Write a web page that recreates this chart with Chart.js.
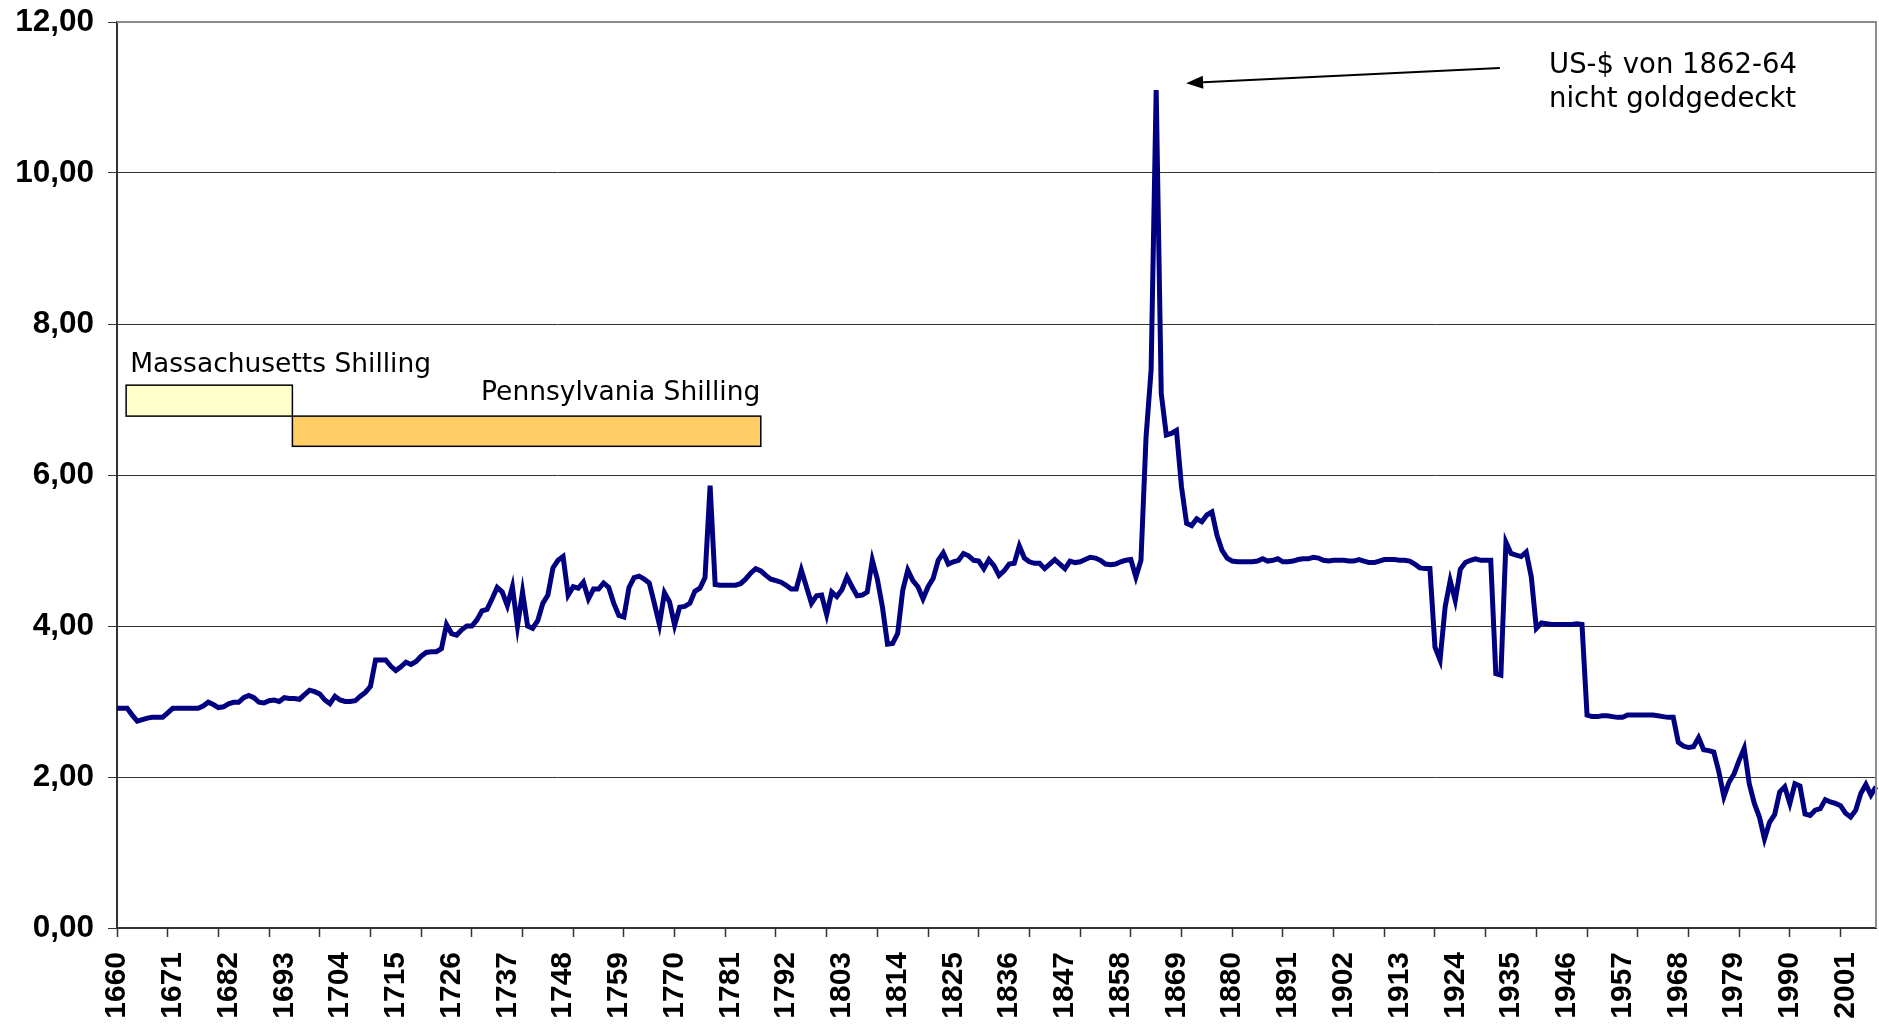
<!DOCTYPE html>
<html>
<head>
<meta charset="utf-8">
<script src="https://cdn.jsdelivr.net/npm/chart.js@4.4.1/dist/chart.umd.min.js"></script>
<style>
  html, body { margin: 0; padding: 0; background: #fff; }
  #wrap { width: 1879px; height: 1030px; position: relative; }
</style>
</head>
<body>
<div id="wrap"><canvas id="rateChart"></canvas></div>
<script>
// one category per year
const firstYear = 1660;
const lastYear = 2007;
const years = [];
for (let yr = firstYear; yr <= lastYear; yr++) years.push(String(yr));

const rates1600s = [
  2.91, 2.91, 2.91, 2.82, 2.74, 2.76, 2.78, 2.79, 2.79, 2.79,
  2.85, 2.91, 2.91, 2.91, 2.91, 2.91, 2.91, 2.94, 2.99, 2.96,
  2.92, 2.93, 2.97, 2.99, 2.99, 3.05, 3.08, 3.05, 2.99, 2.98,
  3.01, 3.02, 3.00, 3.05, 3.04, 3.04, 3.03, 3.09, 3.15, 3.13
];
const rates1700s = [
  3.10, 3.02, 2.97, 3.07, 3.02, 3.00, 3.00, 3.01, 3.07, 3.12,
  3.20, 3.55, 3.55, 3.55, 3.47, 3.41, 3.46, 3.52, 3.49, 3.53,
  3.60, 3.65, 3.66, 3.66, 3.70, 4.02, 3.90, 3.88, 3.95, 4.00,
  4.00, 4.08, 4.20, 4.22, 4.36, 4.51, 4.45, 4.27, 4.52, 4.00,
  4.45, 4.00, 3.97, 4.07, 4.30, 4.41, 4.77, 4.87, 4.92, 4.41,
  4.52, 4.50, 4.58, 4.36, 4.49, 4.49, 4.57, 4.51, 4.30, 4.14,
  4.12, 4.51, 4.64, 4.66, 4.62, 4.57, 4.30, 4.02, 4.44, 4.32,
  4.01, 4.25, 4.26, 4.30, 4.46, 4.50, 4.64, 5.86, 4.55, 4.54,
  4.54, 4.54, 4.54, 4.56, 4.62, 4.70, 4.76, 4.73, 4.67, 4.62,
  4.60, 4.58, 4.54, 4.49, 4.49, 4.74, 4.52, 4.30, 4.40, 4.41
];
const rates1800s = [
  4.15, 4.45, 4.39, 4.48, 4.65, 4.52, 4.40, 4.41, 4.45, 4.87,
  4.62, 4.25, 3.76, 3.77, 3.90, 4.47, 4.74, 4.60, 4.52, 4.36,
  4.52, 4.63, 4.87, 4.97, 4.82, 4.85, 4.87, 4.96, 4.93, 4.87,
  4.86, 4.76, 4.88, 4.80, 4.67, 4.73, 4.82, 4.83, 5.06, 4.90,
  4.85, 4.83, 4.83, 4.76, 4.82, 4.88, 4.82, 4.76, 4.86, 4.84,
  4.85, 4.88, 4.91, 4.90, 4.87, 4.82, 4.81, 4.82, 4.85, 4.87,
  4.88, 4.65, 4.87, 6.50, 7.39, 11.10, 7.08, 6.53, 6.55, 6.59,
  5.84, 5.36, 5.33, 5.42, 5.38, 5.47, 5.51, 5.20, 5.00, 4.90,
  4.86, 4.85, 4.85, 4.85, 4.85, 4.86, 4.89, 4.86, 4.87, 4.89,
  4.85, 4.85, 4.86, 4.88, 4.89, 4.89, 4.91, 4.90, 4.87, 4.86
];
const rates1900s = [
  4.87, 4.87, 4.87, 4.86, 4.86, 4.88, 4.86, 4.84, 4.84, 4.86,
  4.88, 4.88, 4.88, 4.87, 4.87, 4.86, 4.82, 4.77, 4.76, 4.76,
  3.72, 3.55, 4.25, 4.60, 4.34, 4.75, 4.84, 4.87, 4.89, 4.87,
  4.87, 4.87, 3.37, 3.35, 5.11, 4.96, 4.94, 4.92, 4.98, 4.65,
  3.97, 4.04, 4.03, 4.02, 4.02, 4.02, 4.02, 4.02, 4.03, 4.02,
  2.82, 2.80, 2.80, 2.81, 2.81, 2.80, 2.79, 2.79, 2.82, 2.82,
  2.82, 2.82, 2.82, 2.82, 2.81, 2.80, 2.79, 2.79, 2.46, 2.41,
  2.39, 2.40, 2.52, 2.36, 2.35, 2.33, 2.07, 1.74, 1.93, 2.04,
  2.22, 2.38, 1.91, 1.65, 1.47, 1.18, 1.40, 1.50, 1.80, 1.87,
  1.65, 1.91, 1.88, 1.51, 1.49, 1.56, 1.58, 1.70, 1.67, 1.65,
  1.62, 1.52, 1.47, 1.56, 1.78, 1.90, 1.76, 1.87
];
const rates = rates1600s.concat(rates1700s, rates1800s, rates1900s);

const yTicks = [0, 2, 4, 6, 8, 10, 12];
const labelEvery = 11;  // year label every 11 categories
const tickEvery = 10;   // tick mark every 10 categories

// currency periods, placed in years / axis units
const periods = [
  { name: 'Massachusetts Shilling', from: 1661.8, to: 1694.6, top: 7.19, bottom: 6.78,
    fill: '#FFFFCC', textAt: 1662.6, textY: 7.37, align: 'left' },
  { name: 'Pennsylvania Shilling', from: 1694.6, to: 1787.0, top: 6.78, bottom: 6.38,
    fill: '#FFCC66', textAt: 1786.9, textY: 6.99, align: 'right' }
];
const note = {
  lines: ['US-$ von 1862-64', 'nicht goldgedeckt'],
  at: 1942.5, y: 11.32, step: 0.44,
  arrowFrom: [1932.8, 11.39], arrowTo: [1870.9, 11.19]
};

const periodFont = '26.5px "DejaVu Sans", Tahoma, sans-serif';
const noteFont = '27.5px "DejaVu Sans", Tahoma, sans-serif';

const annotations = {
  id: 'annotations',
  afterDraw(chart) {
    const { ctx, chartArea: area, scales: { x, y } } = chart;
    const px = yr => x.getPixelForValue(yr - firstYear);
    ctx.save();

    // plot frame (top and right)
    ctx.strokeStyle = '#8c8c8c';
    ctx.lineWidth = 2;
    ctx.beginPath();
    ctx.moveTo(area.left, area.top);
    ctx.lineTo(area.right, area.top);
    ctx.lineTo(area.right, area.bottom);
    ctx.stroke();

    ctx.font = periodFont;
    ctx.fillStyle = '#000';
    ctx.textBaseline = 'alphabetic';
    periods.forEach(p => {
      const x0 = px(p.from), x1 = px(p.to);
      const y0 = y.getPixelForValue(p.top), y1 = y.getPixelForValue(p.bottom);
      ctx.fillStyle = p.fill;
      ctx.fillRect(x0, y0, x1 - x0, y1 - y0);
      ctx.strokeStyle = '#000';
      ctx.lineWidth = 1.5;
      ctx.strokeRect(x0, y0, x1 - x0, y1 - y0);
      ctx.fillStyle = '#000';
      ctx.textAlign = p.align;
      ctx.fillText(p.name, px(p.textAt), y.getPixelForValue(p.textY));
    });

    // note with arrow pointing at the 1864 peak
    ctx.font = noteFont;
    ctx.textAlign = 'left';
    note.lines.forEach((t, i) => {
      ctx.fillText(t, px(note.at), y.getPixelForValue(note.y - i * note.step));
    });
    const ax0 = px(note.arrowFrom[0]), ay0 = y.getPixelForValue(note.arrowFrom[1]);
    const ax1 = px(note.arrowTo[0]), ay1 = y.getPixelForValue(note.arrowTo[1]);
    const ang = Math.atan2(ay1 - ay0, ax1 - ax0);
    const head = 17, half = 6.5;
    ctx.strokeStyle = '#000';
    ctx.lineWidth = 2;
    ctx.beginPath();
    ctx.moveTo(ax0, ay0);
    ctx.lineTo(ax1 - Math.cos(ang) * head, ay1 - Math.sin(ang) * head);
    ctx.stroke();
    ctx.beginPath();
    ctx.moveTo(ax1, ay1);
    ctx.lineTo(ax1 - Math.cos(ang) * head + Math.sin(ang) * half, ay1 - Math.sin(ang) * head - Math.cos(ang) * half);
    ctx.lineTo(ax1 - Math.cos(ang) * head - Math.sin(ang) * half, ay1 - Math.sin(ang) * head + Math.cos(ang) * half);
    ctx.closePath();
    ctx.fill();

    ctx.restore();
  }
};

Chart.defaults.font.family = '"Liberation Sans", Arial, sans-serif';

new Chart(document.getElementById('rateChart'), {
  type: 'line',
  data: {
    labels: years,
    datasets: [{
      data: rates,
      borderColor: '#000080',
      borderWidth: 5,
      pointRadius: 0,
      tension: 0,
      fill: false
    }]
  },
  options: {
    responsive: true,
    maintainAspectRatio: false,
    animation: false,
    layout: { padding: { top: 22, right: 3, left: 0, bottom: 0 } },
    plugins: {
      legend: { display: false },
      tooltip: { enabled: false }
    },
    scales: {
      x: {
        grid: {
          drawOnChartArea: false,
          drawTicks: true,
          tickLength: 9,
          tickWidth: 1.5,
          tickColor: ctx => ctx.index % tickEvery === 0 ? '#333' : 'rgba(0,0,0,0)'
        },
        border: { color: '#333', width: 2 },
        ticks: {
          autoSkip: false,
          minRotation: 90,
          maxRotation: 90,
          padding: 15,
          color: '#000',
          font: { size: 30, weight: 'bold' },
          callback: (v, i) => i % labelEvery === 0 ? years[i] : ''
        },
        // fixed axis band; no extra side padding for the rotated labels
        afterFit: s => {
          s.height = 102;
          s.paddingLeft = 0;
          s.paddingRight = 0;
        }
      },
      y: {
        min: 0,
        max: 12,
        afterBuildTicks: s => { s.ticks = yTicks.map(v => ({ value: v })); },
        grid: { color: '#333', lineWidth: 1, tickLength: 9 },
        border: { color: '#333', width: 2 },
        ticks: {
          padding: 14,
          color: '#000',
          font: { size: 31.5, weight: 'bold' },
          callback: v => v.toFixed(2).replace('.', ',')
        },
        afterFit: s => {
          s.width = 117;
          s.paddingTop = 0;
          s.paddingBottom = 0;
        }
      }
    }
  },
  plugins: [annotations]
});
</script>
</body>
</html>
